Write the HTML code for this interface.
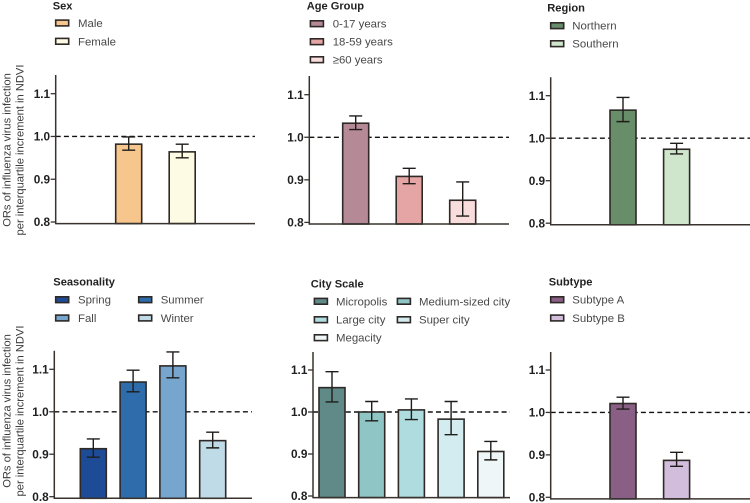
<!DOCTYPE html>
<html>
<head>
<meta charset="utf-8">
<style>
html,body{margin:0;padding:0;background:#fff;width:750px;height:503px;overflow:hidden}
svg{display:block;filter:blur(0.35px)}
text{font-family:"Liberation Sans",sans-serif}
</style>
</head>
<body>
<svg id="chart" width="750" height="503" viewBox="0 0 750 503" xmlns="http://www.w3.org/2000/svg"></svg>
<script>
const tickValues = [0.8, 0.9, 1.0, 1.1];
const tickLabels = ["0.8", "0.9", "1.0", "1.1"];
const referenceValue = 1.0;
const yAxisTitleLines = ["ORs of influenza virus infection", "per interquartile increment in NDVI"];

const sexCategories = ["Male", "Female"];
const sexValues = [0.982, 0.964];
const sexLower = [0.968, 0.950];
const sexUpper = [0.999, 0.982];

const ageCategories = ["0-17 years", "18-59 years", "≥60 years"];
const ageValues = [1.033, 0.908, 0.852];
const ageLower = [1.018, 0.891, 0.815];
const ageUpper = [1.050, 0.927, 0.895];

const regionCategories = ["Northern", "Southern"];
const regionValues = [1.066, 0.974];
const regionLower = [1.039, 0.963];
const regionUpper = [1.096, 0.988];

const seasonCategories = ["Spring", "Summer", "Fall", "Winter"];
const seasonValues = [0.913, 1.070, 1.108, 0.932];
const seasonLower = [0.893, 1.047, 1.080, 0.915];
const seasonUpper = [0.936, 1.098, 1.141, 0.952];

const cityCategories = ["Micropolis", "Medium-sized city", "Large city", "Super city", "Megacity"];
const cityValues = [1.058, 1.000, 1.005, 0.983, 0.906];
const cityLower = [1.024, 0.979, 0.982, 0.946, 0.886];
const cityUpper = [1.096, 1.025, 1.031, 1.025, 0.930];

const subtypeCategories = ["Subtype A", "Subtype B"];
const subtypeValues = [1.021, 0.887];
const subtypeLower = [1.008, 0.873];
const subtypeUpper = [1.036, 0.906];

const NS = "http://www.w3.org/2000/svg";
const root = document.getElementById("chart");
const AXIS = "#38332f", EDGE = "#2e2926", INK = "#1f1f1f", LEG = "#484848";

function add(parent, tag, attrs, txt) {
  const el = document.createElementNS(NS, tag);
  for (const k in attrs) el.setAttribute(k, attrs[k]);
  if (txt !== undefined) el.textContent = txt;
  parent.appendChild(el);
  return el;
}
function slug(s) {
  return s.toLowerCase().replace(/[^a-z0-9]+/g, "-").replace(/^-|-$/g, "");
}

const panels = [
  {title:"Sex", cats:sexCategories, vals:sexValues, lo:sexLower, hi:sexUpper,
   colors:["#f7c68c","#fdfbe4"], axisX:55.7, xEnd:255, top:75, y08:222, y11:93.7, barX:115.7, step:53.5,
   titleX:52.7, titleY:9.7, legend:[[55,78,23],[55,78,41.3]], yTitle:150},
  {title:"Age Group", cats:ageCategories, vals:ageValues, lo:ageLower, hi:ageUpper,
   colors:["#b58a96","#e6a5a5","#f9dcdc"], axisX:309.3, xEnd:509, top:76, y08:222.4, y11:94.7, barX:342.7, step:53.5,
   titleX:306.7, titleY:9.7, legend:[[309.7,332.7,23.7],[309.7,332.7,41.7],[309.7,332.7,59.7]]},
  {title:"Region", cats:regionCategories, vals:regionValues, lo:regionLower, hi:regionUpper,
   colors:["#678d69","#cfe6cd"], axisX:550.7, xEnd:750, top:77.3, y08:223.2, y11:95.7, barX:610, step:53.6,
   titleX:547.3, titleY:11.3, legend:[[550,572.3,25.7],[550,572.3,43.7]]},
  {title:"Seasonality", cats:seasonCategories, vals:seasonValues, lo:seasonLower, hi:seasonUpper,
   colors:["#1d4b96","#2f6cab","#76a5cd","#c0dbe8"], axisX:54.3, xEnd:252, top:350.7, y08:496.7, y11:369.3, barX:80.3, step:39.8,
   titleX:53.3, titleY:285.7, legend:[[55,78,299.7],[138,160.7,299.7],[55,78,318],[138,160.7,318]], yTitle:411},
  {title:"City Scale", cats:cityCategories, vals:cityValues, lo:cityLower, hi:cityUpper,
   colors:["#5f8a87","#8fc5c5","#aedcdf","#d3ecef","#eef6f8"], axisX:313, xEnd:510, top:352, y08:496, y11:370, barX:319, step:39.7,
   titleX:310.7, titleY:287.7, legend:[[313.7,336,301.3],[396.7,419,301.3],[313.7,336,319.7],[396.7,419,319.7],[313.7,336,337.7]]},
  {title:"Subtype", cats:subtypeCategories, vals:subtypeValues, lo:subtypeLower, hi:subtypeUpper,
   colors:["#8a5f85","#d3bddc"], axisX:550.7, xEnd:750, top:352, y08:497.3, y11:370, barX:610, step:53.6,
   titleX:548.7, titleY:285.7, legend:[[550,572.3,299.7],[550,572.3,318]]}
];

panels.forEach(function (p) {
  const key = slug(p.title);
  const yScale = function (v) {
    return p.y08 + (v - tickValues[0]) * (p.y11 - p.y08) / (tickValues[3] - tickValues[0]);
  };
  const baseY = p.y08 + 1.6;

  const g = add(root, "g", {});
  
  

  const title = add(g, "text", {x:p.titleX, y:p.titleY, "font-size":11.1, "font-weight":"bold", fill:"#222"}, p.title);
  
  

  p.cats.forEach(function (c, i) {
    const l = p.legend[i];
    const sw = add(g, "rect", {x:l[0] + 0.7, y:l[2] - 2.9, width:13, height:5.8, fill:p.colors[i], stroke:EDGE, "stroke-width":1.6});
    
    
    const t = add(g, "text", {x:l[1], y:l[2] + 4, "font-size":11.4, fill:LEG}, c);
    
    
  });

  if (p.yTitle) {
    yAxisTitleLines.forEach(function (s, i) {
      const bx = i === 0 ? 10.5 : 23.5;
      const t = add(g, "text", {x:0, y:0, transform:"translate(" + bx + " " + p.yTitle + ") rotate(-90)", "text-anchor":"middle", "font-size":11.15, fill:"#3c3c3c"}, s);
      
      
    });
  }

  const ref = add(g, "line", {x1:p.axisX, x2:p.xEnd, y1:yScale(referenceValue), y2:yScale(referenceValue), stroke:"#111", "stroke-width":1.4, "stroke-dasharray":"5 3.2"});
  
  

  p.vals.forEach(function (v, i) {
    const x = p.barX + i * p.step;
    const w = 26;
    const cx = x + w / 2;
    const top = yScale(v);
    const bar = add(g, "rect", {x:x, y:top, width:w, height:baseY - top, fill:p.colors[i], stroke:EDGE, "stroke-width":1.6});
    
    

    const eb = add(g, "path", {
      d:"M" + (cx - 6.5) + " " + yScale(p.hi[i]) + "H" + (cx + 6.5) +
        "M" + cx + " " + yScale(p.hi[i]) + "V" + yScale(p.lo[i]) +
        "M" + (cx - 6.5) + " " + yScale(p.lo[i]) + "H" + (cx + 6.5),
      fill:"none", stroke:"#1f1c1a", "stroke-width":1.4});
    
    
  });

  const ya = add(g, "line", {x1:p.axisX, x2:p.axisX, y1:p.top, y2:baseY + 0.7, stroke:AXIS, "stroke-width":1.5});
  
  

  const xa = add(g, "line", {x1:p.axisX, x2:p.xEnd, y1:baseY, y2:baseY, stroke:AXIS, "stroke-width":1.5});
  
  

  tickValues.forEach(function (tv, i) {
    const y = yScale(tv);
    const tick = add(g, "line", {x1:p.axisX - 5, x2:p.axisX, y1:y, y2:y, stroke:AXIS, "stroke-width":1.3});
    
    
    const lab = add(g, "text", {x:p.axisX - 5.6, y:y + 4.2, "text-anchor":"end", "font-size":11.8, "font-weight":"bold", fill:INK}, tickLabels[i]);
    
    
  });
});
</script>
</body>
</html>
